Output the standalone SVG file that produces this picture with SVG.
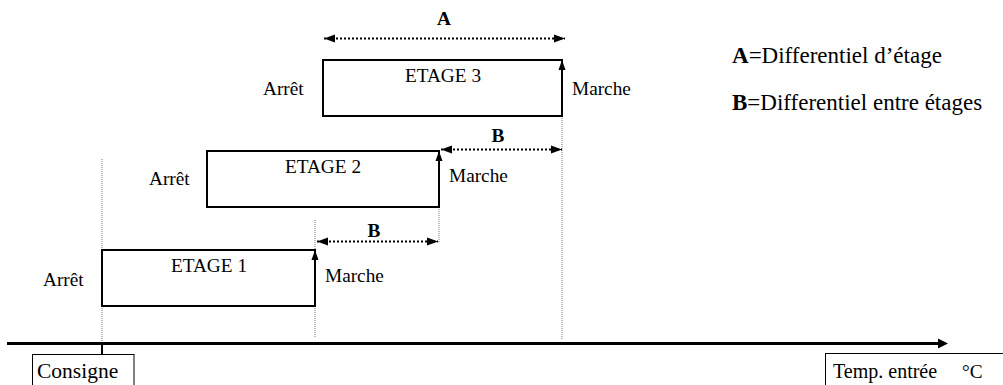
<svg xmlns="http://www.w3.org/2000/svg" width="1003" height="385" viewBox="0 0 1003 385" font-family="'Liberation Serif', 'Times New Roman', Tinos, 'DejaVu Serif', serif">
<style>
text{font-family:'Liberation Serif','Times New Roman',Tinos,'DejaVu Serif',serif;fill:#000}
.t{font-size:19.3px}
.big{font-size:21.5px}
.leg{font-size:23px}
.b{font-weight:bold}
.box{fill:#fff;stroke:#000;stroke-width:2}
.lbl{fill:#fff;stroke:#000;stroke-width:1}
.guide{stroke:#777;stroke-width:1;stroke-dasharray:1 1;fill:none}
.dim{stroke:#000;stroke-width:2;stroke-dasharray:2 2;fill:none}
.up{stroke:#000;stroke-width:2;fill:none}
.axis{stroke:#000;stroke-width:3;fill:none}
</style>
<defs>
<marker id="ah" markerUnits="userSpaceOnUse" markerWidth="12" markerHeight="10" refX="11" refY="5" orient="auto-start-reverse"><path d="M0,1 L11,5 L0,9 Z" fill="#000"/></marker>
<marker id="ahs" markerUnits="userSpaceOnUse" markerWidth="10" markerHeight="8" refX="10" refY="4" orient="auto"><path d="M0,0.5 L10,4 L0,7.5 Z" fill="#000"/></marker>
</defs>
<g id="connectors">
<line class="guide" x1="102" y1="159" x2="102" y2="250"/>
<line class="guide" x1="102" y1="306" x2="102" y2="342"/>
<line class="guide" x1="315" y1="220" x2="315" y2="250"/>
<line class="guide" x1="315" y1="306" x2="315" y2="338"/>
<line class="guide" x1="439" y1="207" x2="439" y2="242"/>
<line class="guide" x1="562" y1="116" x2="562" y2="339"/>
<line class="axis" x1="7" y1="343.5" x2="940" y2="343.5"/>
<path d="M938,338.5 L948,343.5 L938,348.5 Z" fill="#000"/>
<line x1="102" y1="343" x2="102" y2="355" stroke="#000" stroke-width="2"/>
<line class="dim" x1="324" y1="38.5" x2="565" y2="38.5" marker-start="url(#ah)" marker-end="url(#ah)"/>
<line class="dim" x1="441" y1="149.5" x2="562" y2="149.5" marker-start="url(#ah)" marker-end="url(#ah)"/>
<line class="dim" x1="317" y1="241.5" x2="438" y2="241.5" marker-start="url(#ah)" marker-end="url(#ah)"/>
<text class="t b" x="444" y="25" text-anchor="middle">A</text>
<text class="t b" x="498" y="142" text-anchor="middle">B</text>
<text class="t b" x="374" y="237" text-anchor="middle">B</text>
</g>
<g id="etage1">
<rect class="box" x="102" y="250" width="213" height="56"/>
<line class="up" x1="315" y1="306" x2="315" y2="250" marker-end="url(#ahs)"/>
<text class="t" x="209" y="272" text-anchor="middle">ETAGE 1</text>
<text class="t" x="43" y="286">Arrêt</text>
<text class="t" x="325" y="282">Marche</text>
</g>
<g id="etage2">
<rect class="box" x="207" y="151" width="232" height="56"/>
<line class="up" x1="439" y1="207" x2="439" y2="151" marker-end="url(#ahs)"/>
<text class="t" x="323" y="173" text-anchor="middle">ETAGE 2</text>
<text class="t" x="149" y="185">Arrêt</text>
<text class="t" x="449" y="182">Marche</text>
</g>
<g id="etage3">
<rect class="box" x="323" y="60" width="239" height="56"/>
<line class="up" x1="562" y1="116" x2="562" y2="60" marker-end="url(#ahs)"/>
<text class="t" x="443" y="82" text-anchor="middle">ETAGE 3</text>
<text class="t" x="263" y="95">Arrêt</text>
<text class="t" x="572" y="95">Marche</text>
</g>
<g id="consigne">
<rect class="lbl" x="32.5" y="354.5" width="101.5" height="40"/>
<text class="big" x="37" y="378">Consigne</text>
</g>
<g id="temp">
<rect class="lbl" x="825.5" y="353.5" width="190" height="40"/>
<text class="t" x="833" y="378" style="font-size:20px">Temp. entrée</text>
<text class="t" x="962" y="378">°C</text>
</g>
<g id="legend">
<text class="leg" x="732" y="63"><tspan class="b">A</tspan>=Differentiel d’étage</text>
<text class="leg" x="732" y="110"><tspan class="b">B</tspan>=Differentiel entre étages</text>
</g>
</svg>
